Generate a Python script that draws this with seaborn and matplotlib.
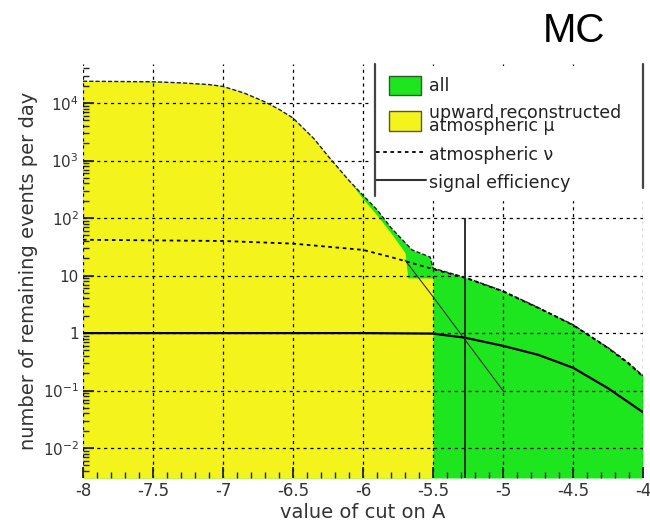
import matplotlib
matplotlib.use("Agg")
import numpy as np
import pandas as pd
import seaborn as sns
import matplotlib.pyplot as plt
from matplotlib.patches import Patch, Rectangle
from matplotlib.lines import Line2D
from matplotlib.legend_handler import HandlerPatch
from matplotlib.ticker import MultipleLocator, LogLocator, NullFormatter

# ---------------- data ----------------
# "all" events (upper edge of green area)
all_x = [-8.0, -7.5, -7.3, -7.1, -7.0, -6.85, -6.7, -6.6, -6.5, -6.35, -6.25, -6.1, -6.0,
         -5.9, -5.8, -5.65, -5.52, -5.5, -5.26, -5.0, -4.75, -4.5, -4.25, -4.1, -4.0]
all_y = [2.4e4, 2.35e4, 2.25e4, 2.1e4, 1.95e4, 1.5e4, 1.05e4, 7.8e3, 5.5e3, 2.4e3, 1.2e3,
         450, 250, 140, 68, 28, 21, 13.5, 9.1, 5.4, 2.8, 1.4, 0.56, 0.30, 0.18]

# upward reconstructed atmospheric mu (yellow area)
mu_x = [-8.0, -7.5, -7.3, -7.1, -7.0, -6.85, -6.7, -6.6, -6.5, -6.35, -6.25, -6.1, -6.0,
        -5.9, -5.8, -5.7, -5.68, -5.5]
mu_y = [2.4e4, 2.35e4, 2.25e4, 2.1e4, 1.95e4, 1.5e4, 1.05e4, 7.8e3, 5.5e3, 2.4e3, 1.2e3,
        450, 215, 112, 55, 25, 9.1, 9.1]

# continuation of the mu curve beyond the cut (thin line)
mutail_x = [-5.7, -5.5, -5.27, -5.0]
mutail_y = [18.6, 4.3, 0.76, 0.10]

# atmospheric nu (dotted)
nu_x = [-8.0, -7.5, -7.0, -6.5, -6.0, -5.8, -5.5, -5.26, -5.0, -4.75, -4.5, -4.25, -4.1, -4.0]
nu_y = [42, 41, 40, 36, 28, 21, 13, 9.0, 5.3, 2.75, 1.38, 0.55, 0.29, 0.175]

# signal efficiency (solid)
eff_x = [-8.0, -6.0, -5.5, -5.27, -5.0, -4.75, -4.5, -4.25, -4.0]
eff_y = [1.0, 1.0, 0.98, 0.83, 0.60, 0.42, 0.25, 0.11, 0.042]

cut_value = -5.27
cut_top = 100

x_ticks = [-8, -7.5, -7, -6.5, -6, -5.5, -5, -4.5, -4]
x_tick_labels = ["-8", "-7.5", "-7", "-6.5", "-6", "-5.5", "-5", "-4.5", "-4"]
y_ticks = [1e-2, 1e-1, 1, 10, 1e2, 1e3, 1e4]
y_tick_labels = ["$10^{-2}$", "$10^{-1}$", "1", "10", "$10^{2}$", "$10^{3}$", "$10^{4}$"]

legend_labels = ["all", "upward reconstructed\natmospheric \u03bc", "atmospheric \u03bd",
                 "signal efficiency"]

GREEN = "#1ee61e"
YELLOW = "#f4f41c"


class NarrowPatchHandler(HandlerPatch):
    def create_artists(self, legend, orig_handle, xdescent, ydescent, width, height,
                       fontsize, trans):
        w = width * 0.64
        x0 = -xdescent + width * 0.26
        p = Rectangle((x0, -ydescent), w, height, facecolor=orig_handle.get_facecolor(),
                      edgecolor=orig_handle.get_edgecolor(), lw=orig_handle.get_linewidth(),
                      transform=trans)
        return [p]


# ---------------- plot ----------------
sns.set_theme(style="white")
plt.rcParams["font.family"] = ["DejaVu Sans"]

fig = plt.figure(figsize=(6.5, 5.22), dpi=100)
ax = fig.add_axes([83 / 650, 1 - 478 / 522, 560 / 650, 414 / 522])

ymin, ymax = 10 ** -2.52, 10 ** 4.68
ax.set_yscale("log")

ax.fill_between(all_x, ymin, all_y, color=GREEN, lw=0, zorder=1)
ax.fill_between(mu_x, ymin, mu_y, color=YELLOW, lw=0, zorder=2)

df_all = pd.DataFrame({"x": all_x, "y": all_y})
df_tail = pd.DataFrame({"x": mutail_x, "y": mutail_y})
df_nu = pd.DataFrame({"x": nu_x, "y": nu_y})
df_eff = pd.DataFrame({"x": eff_x, "y": eff_y})

sns.lineplot(data=df_all, x="x", y="y", ax=ax, color="#222222", lw=1.0,
             linestyle=(0, (3, 1.5)), sort=False, zorder=4)
sns.lineplot(data=df_tail, x="x", y="y", ax=ax, color="#333333", lw=0.8,
             sort=False, zorder=4)
sns.lineplot(data=df_nu, x="x", y="y", ax=ax, color="black", lw=1.3,
             linestyle=(0, (2, 2)), sort=False, zorder=4)
sns.lineplot(data=df_eff, x="x", y="y", ax=ax, color="black", lw=1.6,
             sort=False, zorder=4)
ax.vlines(cut_value, ymin, cut_top, color="#222222", lw=1.3, zorder=4)

ax.set_xlim(-8, -4)
ax.set_ylim(ymin, ymax)

ax.set_xticks(x_ticks)
ax.set_xticklabels(x_tick_labels)
ax.set_yticks(y_ticks)
ax.set_yticklabels(y_tick_labels)
ax.xaxis.set_minor_locator(MultipleLocator(0.1))
ax.yaxis.set_minor_locator(LogLocator(base=10, subs=np.arange(2, 10), numticks=20))
ax.yaxis.set_minor_formatter(NullFormatter())

ax.grid(True, which="major", color=(0, 0, 0, 0.33), linestyle=(0, (2.5, 3)), lw=0.9)
ax.set_axisbelow(False)

ax.tick_params(which="both", direction="in", left=True, bottom=True, top=False,
               right=False, colors="#222222", labelsize=12, labelcolor="#333333")
ax.tick_params(which="major", length=8, width=1.3)
ax.tick_params(which="minor", length=4, width=1.0)
ax.tick_params(axis="x", which="major", pad=3)
ax.tick_params(axis="y", which="major", pad=3, labelsize=11)
for s in ax.spines.values():
    s.set_visible(False)

ax.set_xlabel("value of cut on A", fontsize=14, color="#333333", labelpad=2)
ax.set_ylabel("number of remaining events per day", fontsize=14, color="#333333",
              labelpad=3)

handles = [Patch(facecolor=GREEN, edgecolor="#2b5a2b", lw=1.0),
           Patch(facecolor=YELLOW, edgecolor="#5a5a20", lw=1.0),
           Line2D([], [], color="black", lw=1.3, linestyle=(0, (2, 2))),
           Line2D([], [], color="#333333", lw=1.5)]
leg = ax.legend(handles, legend_labels, loc="upper left",
                bbox_to_anchor=(0.521, 0.67, 0.479, 0.305), mode="expand",
                frameon=True, facecolor="white", edgecolor="white", framealpha=1,
                fancybox=False, fontsize=12.5, handlelength=2.85, handleheight=1.32,
                handletextpad=0.2, labelspacing=0.52, borderpad=0.1,
                borderaxespad=0,
                handler_map={Patch: NarrowPatchHandler()})
leg.get_frame().set_boxstyle("square", pad=0.35)
for t in leg.get_texts():
    t.set_color("#222222")
    t.set_linespacing(0.62)

for xl, y0, y1 in [(0.521, 0.68, 1.0), (1.0, 0.70, 1.0)]:
    ax.plot([xl, xl], [y0, y1], transform=ax.transAxes, color="#444444", lw=1.6,
            clip_on=False, zorder=10)

fig.text(574 / 650, 1 - 31 / 522, "MC", ha="center", va="center", fontsize=29,
         family="Liberation Sans", color="black")

fig.savefig("out.png", dpi=100)
